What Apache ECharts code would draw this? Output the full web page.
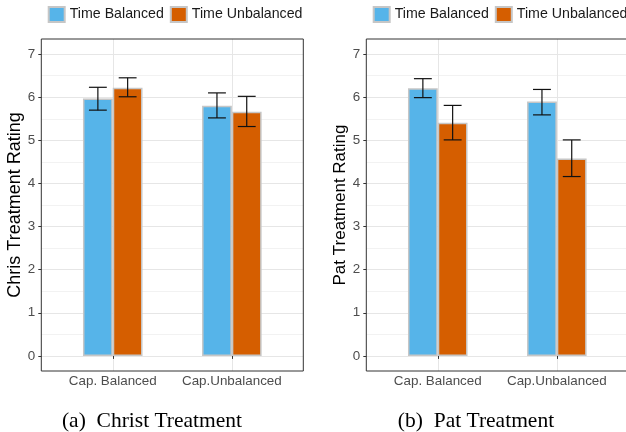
<!DOCTYPE html>
<html>
<head>
<meta charset="utf-8">
<script src="https://cdn.jsdelivr.net/npm/echarts@6/dist/echarts.min.js"></script>
<style>html,body{margin:0;padding:0;background:#fff;}#c{width:626px;height:432px;}</style>
</head>
<body>
<div id="c"></div>
<script>
// ---- data ----
var categories = ['Cap. Balanced', 'Cap.Unbalanced'];
var seriesNames = ['Time Balanced', 'Time Unbalanced'];
var yTicks = [0, 1, 2, 3, 4, 5, 6, 7];

var chrisBalanced = [5.97, 5.80];
var chrisBalancedLo = [5.70, 5.52];
var chrisBalancedHi = [6.23, 6.10];
var chrisUnbalanced = [6.22, 5.66];
var chrisUnbalancedLo = [6.01, 5.32];
var chrisUnbalancedHi = [6.45, 6.02];

var patBalanced = [6.21, 5.90];
var patBalancedLo = [5.99, 5.59];
var patBalancedHi = [6.43, 6.18];
var patUnbalanced = [5.41, 4.58];
var patUnbalancedLo = [5.01, 4.16];
var patUnbalancedHi = [5.81, 5.01];

var panelTitles = ['Chris Treatment Rating', 'Pat Treatment Rating'];
var captions = ['(a)\u2002Christ Treatment', '(b)\u2002Pat Treatment'];

// ---- chart ----
var SANS = 'Liberation Sans';
var BLUE = '#56B4E9', ORANGE = '#D55E00';
var chart = echarts.init(document.getElementById('c'), null, {renderer: 'canvas'});

var panels = [
  {left: 41.3, title: panelTitles[0], titleSize: 18, bal: chrisBalanced, balLo: chrisBalancedLo, balHi: chrisBalancedHi,
   unb: chrisUnbalanced, unbLo: chrisUnbalancedLo, unbHi: chrisUnbalancedHi, capX: 152, caption: captions[0]},
  {left: 366.3, title: panelTitles[1], titleSize: 17, bal: patBalanced, balLo: patBalancedLo, balHi: patBalancedHi,
   unb: patUnbalanced, unbLo: patUnbalancedLo, unbHi: patUnbalancedHi, capX: 476, caption: captions[1]}
];

var PW = 262, PT = 39, PH = 332;
var YMIN = -0.35, YMAX = 7.35;
var grids = [], xAxes = [], yAxes = [], series = [], legends = [], graphics = [];

function errItem(offset) {
  return function (params, api) {
    var idx = api.value(0);
    var band = api.size([1, 0])[0];
    var pLo = api.coord([idx, api.value(1)]);
    var pHi = api.coord([idx, api.value(2)]);
    var x = pLo[0] + offset * band;
    var hw = 0.075 * band;
    var st = {stroke: '#111111', lineWidth: 1.2};
    return {type: 'group', children: [
      {type: 'line', shape: {x1: x, y1: pLo[1], x2: x, y2: pHi[1]}, style: st},
      {type: 'line', shape: {x1: x - hw, y1: pLo[1], x2: x + hw, y2: pLo[1]}, style: st},
      {type: 'line', shape: {x1: x - hw, y1: pHi[1], x2: x + hw, y2: pHi[1]}, style: st}
    ]};
  };
}

panels.forEach(function (p, i) {
  var gFrame = grids.length, gY = gFrame + 1, gBar = gFrame + 2;
  var y0 = PT + PH * (YMAX - 7) / (YMAX - YMIN);
  var y7h = PH * 7 / (YMAX - YMIN);
  var bandW = PW / 2.2;
  // frame grid
  grids.push({left: p.left, top: PT, width: PW, height: PH, show: true, borderColor: '#333333', borderWidth: 1,
              backgroundColor: 'transparent', outerBoundsMode: 'none', z: 3});
  xAxes.push({gridIndex: gFrame, type: 'value', min: 0, max: 1, show: false});
  yAxes.push({gridIndex: gFrame, type: 'value', min: 0, max: 1, show: false});
  // horizontal grid + y labels
  grids.push({left: p.left, top: y0, width: PW, height: y7h, outerBoundsMode: 'none'});
  xAxes.push({gridIndex: gY, type: 'value', min: 0, max: 1, show: false});
  yAxes.push({gridIndex: gY, type: 'value', min: yTicks[0], max: yTicks[yTicks.length - 1], interval: 1,
    axisLine: {show: false},
    axisTick: {show: true, length: 3, lineStyle: {color: '#333333', width: 1}},
    axisLabel: {color: '#4d4d4d', fontFamily: SANS, fontSize: 13.4, margin: 6},
    splitLine: {show: true, lineStyle: {color: '#e6e6e6', width: 1}},
    minorTick: {show: false, splitNumber: 2},
    minorSplitLine: {show: true, lineStyle: {color: '#f2f2f2', width: 1}},
    name: p.title, nameLocation: 'middle', nameGap: 17,
    nameTextStyle: {color: '#000', fontFamily: SANS, fontSize: p.titleSize}
  });
  // bar grid
  grids.push({left: p.left + 0.1 * bandW, top: PT, width: 2 * bandW, height: PH, outerBoundsMode: 'none'});
  xAxes.push({gridIndex: gBar, type: 'category', data: categories,
    axisLine: {show: false},
    axisTick: {show: true, interval: 0, alignWithLabel: true, length: 3, lineStyle: {color: '#333333'}},
    axisLabel: {interval: 0, hideOverlap: false, color: '#4d4d4d', fontFamily: SANS, fontSize: 13.4, margin: 4},
    splitLine: {show: true, interval: 0, alignWithLabel: true, lineStyle: {color: '#e6e6e6', width: 1}}
  });
  yAxes.push({gridIndex: gBar, type: 'value', min: YMIN, max: YMAX, show: false, splitLine: {show: false}});

  var barStyle = {borderColor: '#c6c6c6', borderWidth: 1.5};
  series.push({type: 'bar', name: seriesNames[0], xAxisIndex: gBar, yAxisIndex: gBar, data: p.bal,
    barWidth: '25%', barGap: '0%', itemStyle: Object.assign({color: BLUE}, barStyle), z: 2});
  series.push({type: 'bar', name: seriesNames[1], xAxisIndex: gBar, yAxisIndex: gBar, data: p.unb,
    barWidth: '25%', barGap: '0%', itemStyle: Object.assign({color: ORANGE}, barStyle), z: 2});
  series.push({type: 'custom', name: 'errB' + i, xAxisIndex: gBar, yAxisIndex: gBar, z: 5,
    data: categories.map(function (c, k) { return [k, p.balLo[k], p.balHi[k]]; }),
    encode: {x: 0, y: [1, 2]}, renderItem: errItem(-0.125)});
  series.push({type: 'custom', name: 'errU' + i, xAxisIndex: gBar, yAxisIndex: gBar, z: 5,
    data: categories.map(function (c, k) { return [k, p.unbLo[k], p.unbHi[k]]; }),
    encode: {x: 0, y: [1, 2]}, renderItem: errItem(0.125)});

  legends.push({data: seriesNames, left: p.left + 6.4, top: 6, width: 400, orient: 'horizontal', padding: 0,
    itemWidth: 16, itemHeight: 15, itemGap: 6, icon: 'rect', selectedMode: false,
    textStyle: {color: '#1a1a1a', fontFamily: SANS, fontSize: 14.2}});

  graphics.push({type: 'text', x: p.capX, y: 421,
    style: {text: p.caption, fontFamily: 'Liberation Serif', fontSize: 21.5, fill: '#000',
            align: 'center', verticalAlign: 'middle'}});
});

chart.setOption({
  animation: false,
  backgroundColor: '#ffffff',
  grid: grids,
  xAxis: xAxes,
  yAxis: yAxes,
  legend: legends,
  series: series,
  graphic: graphics
});
</script>
</body>
</html>
